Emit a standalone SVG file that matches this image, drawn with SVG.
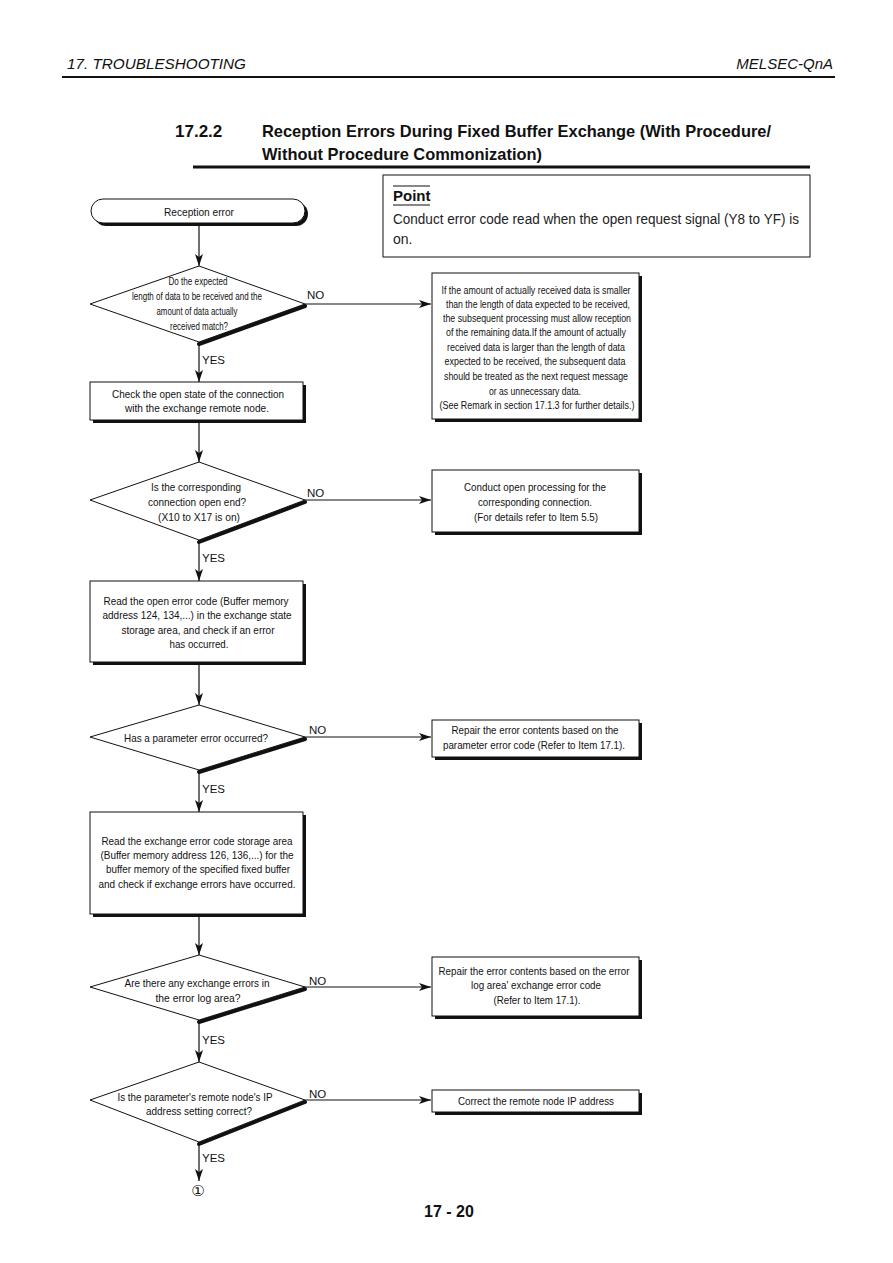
<svg xmlns="http://www.w3.org/2000/svg" width="893" height="1263" viewBox="0 0 893 1263">
<style>
.t{font-family:"Liberation Sans Narrow","Liberation Sans",Arial,sans-serif;font-size:11.5px;fill:#111;text-anchor:middle}
.s{font-size:10.5px}
.lbl{font-family:"Liberation Sans Narrow","Liberation Sans",Arial,sans-serif;font-size:11.5px;fill:#111}
.box{fill:#fff;stroke:#111;stroke-width:1}
.sh{fill:#111}
.dsh{fill:none;stroke:#111;stroke-width:4;stroke-linecap:round}
.ln{fill:none;stroke:#111;stroke-width:1.2}
.hdr{font-family:"Liberation Sans",Arial,sans-serif;font-style:italic;font-size:15px;fill:#111}
.ttl{font-family:"Liberation Sans",Arial,sans-serif;font-weight:bold;font-size:17px;fill:#111}
.pt{font-family:"Liberation Sans",Arial,sans-serif;font-size:14px;fill:#222}
</style>
<defs>
<marker id="arr" viewBox="0 0 12 8" refX="12" refY="4" markerWidth="12" markerHeight="8" orient="auto" markerUnits="userSpaceOnUse"><path d="M0,0 L12,4 L0,8 L3,4 z" fill="#111"/></marker>
</defs>
<rect width="893" height="1263" fill="#fff"/>

<g id="header">
<text class="hdr" x="67" y="69" textLength="179" lengthAdjust="spacingAndGlyphs">17. TROUBLESHOOTING</text>
<text class="hdr" x="833" y="69" text-anchor="end">MELSEC-QnA</text>
<line x1="62" y1="77" x2="835" y2="77" stroke="#111" stroke-width="2"/>
</g>

<g id="title">
<text class="ttl" x="175" y="137">17.2.2</text>
<text class="ttl" x="262" y="137" textLength="509" lengthAdjust="spacingAndGlyphs">Reception Errors During Fixed Buffer Exchange (With Procedure/</text>
<text class="ttl" x="262" y="160" textLength="280" lengthAdjust="spacingAndGlyphs">Without Procedure Commonization)</text>
<line x1="193" y1="167" x2="810" y2="167" stroke="#111" stroke-width="3"/>
</g>

<g id="point">
<rect class="box" x="383" y="175" width="427" height="82"/>
<line x1="393" y1="186" x2="430" y2="186" stroke="#111" stroke-width="1"/>
<text x="393" y="201" font-family="Liberation Sans,Arial,sans-serif" font-weight="bold" font-size="15" fill="#111">Point</text>
<line x1="393" y1="205" x2="430" y2="205" stroke="#111" stroke-width="1.2"/>
<text class="pt" x="393" y="224" textLength="406" lengthAdjust="spacingAndGlyphs">Conduct error code read when the open request signal (Y8 to YF) is</text>
<text class="pt" x="393" y="244">on.</text>
</g>

<g id="connectors">
<line class="ln" x1="199" y1="223" x2="199" y2="266" marker-end="url(#arr)"/>
<line class="ln" x1="199" y1="342" x2="199" y2="382" marker-end="url(#arr)"/>
<line class="ln" x1="199" y1="423" x2="199" y2="462" marker-end="url(#arr)"/>
<line class="ln" x1="199" y1="540" x2="199" y2="581" marker-end="url(#arr)"/>
<line class="ln" x1="199" y1="665" x2="199" y2="705" marker-end="url(#arr)"/>
<line class="ln" x1="199" y1="770" x2="199" y2="812" marker-end="url(#arr)"/>
<line class="ln" x1="199" y1="917" x2="199" y2="955" marker-end="url(#arr)"/>
<line class="ln" x1="199" y1="1020" x2="199" y2="1062" marker-end="url(#arr)"/>
<line class="ln" x1="199" y1="1142" x2="199" y2="1181" marker-end="url(#arr)"/>
<line class="ln" x1="305" y1="304" x2="431" y2="304" marker-end="url(#arr)"/>
<line class="ln" x1="305" y1="500" x2="431" y2="500" marker-end="url(#arr)"/>
<line class="ln" x1="305" y1="737" x2="431" y2="737" marker-end="url(#arr)"/>
<line class="ln" x1="305" y1="987" x2="431" y2="987" marker-end="url(#arr)"/>
<line class="ln" x1="305" y1="1100" x2="431" y2="1100" marker-end="url(#arr)"/>
<text class="lbl" x="307" y="299">NO</text>
<text class="lbl" x="307" y="497">NO</text>
<text class="lbl" x="309" y="734">NO</text>
<text class="lbl" x="309" y="985">NO</text>
<text class="lbl" x="309" y="1098">NO</text>
<text class="lbl" x="202" y="364">YES</text>
<text class="lbl" x="202" y="562">YES</text>
<text class="lbl" x="202" y="793">YES</text>
<text class="lbl" x="202" y="1044">YES</text>
<text class="lbl" x="202" y="1162">YES</text>
</g>

<g id="start">
<rect class="sh" x="94" y="202" width="214" height="24" rx="12"/>
<rect class="box" x="91" y="199" width="214" height="24" rx="12"/>
<text class="t" x="199" y="216" textLength="70" lengthAdjust="spacingAndGlyphs">Reception error</text>
</g>

<g id="d1">
<line class="dsh" x1="305" y1="306" x2="199" y2="344"/>
<polygon class="box" points="90,304 199,266 305,304 199,342"/>
<text class="t s" x="198" y="285" textLength="59" lengthAdjust="spacingAndGlyphs">Do the expected</text>
<text class="t s" x="197" y="300" textLength="130" lengthAdjust="spacingAndGlyphs">length of data to be received and the</text>
<text class="t s" x="197" y="315" textLength="81" lengthAdjust="spacingAndGlyphs">amount of data actually</text>
<text class="t s" x="199" y="330" textLength="58" lengthAdjust="spacingAndGlyphs">received match?</text>
</g>

<g id="r1">
<rect class="sh" x="435" y="276" width="207" height="146"/>
<rect class="box" x="432" y="273" width="207" height="146"/>
<text class="t s" x="536" y="294" textLength="189" lengthAdjust="spacingAndGlyphs">If the amount of actually received data is smaller</text>
<text class="t s" x="538" y="308" textLength="184" lengthAdjust="spacingAndGlyphs">than the length of data expected to be received,</text>
<text class="t s" x="537" y="322" textLength="188" lengthAdjust="spacingAndGlyphs">the subsequent processing must allow reception</text>
<text class="t s" x="536" y="336" textLength="180" lengthAdjust="spacingAndGlyphs">of the remaining data.If the amount of actually</text>
<text class="t s" x="536" y="351" textLength="178" lengthAdjust="spacingAndGlyphs">received data is larger than the length of data</text>
<text class="t s" x="535" y="365" textLength="181" lengthAdjust="spacingAndGlyphs">expected to be received, the subsequent data</text>
<text class="t s" x="536" y="380" textLength="184" lengthAdjust="spacingAndGlyphs">should be treated as the next request message</text>
<text class="t s" x="535" y="395" textLength="92" lengthAdjust="spacingAndGlyphs">or as unnecessary data.</text>
<text class="t s" x="537" y="409" textLength="195" lengthAdjust="spacingAndGlyphs">(See Remark in section 17.1.3 for further details.)</text>
</g>

<g id="b2">
<rect class="sh" x="93" y="385" width="213" height="38"/>
<rect class="box" x="90" y="382" width="213" height="38"/>
<text class="t" x="198" y="398" textLength="172" lengthAdjust="spacingAndGlyphs">Check the open state of the connection</text>
<text class="t" x="197" y="412" textLength="144" lengthAdjust="spacingAndGlyphs">with the exchange remote node.</text>
</g>

<g id="d2">
<line class="dsh" x1="305" y1="502" x2="199" y2="542"/>
<polygon class="box" points="90,500 199,462 305,500 199,540"/>
<text class="t" x="196" y="491" textLength="90" lengthAdjust="spacingAndGlyphs">Is the corresponding</text>
<text class="t" x="197" y="506" textLength="98" lengthAdjust="spacingAndGlyphs">connection open end?</text>
<text class="t" x="199" y="521" textLength="82" lengthAdjust="spacingAndGlyphs">(X10 to X17 is on)</text>
</g>

<g id="r2">
<rect class="sh" x="435" y="473" width="207" height="62"/>
<rect class="box" x="432" y="470" width="207" height="62"/>
<text class="t" x="535" y="491" textLength="142" lengthAdjust="spacingAndGlyphs">Conduct open processing for the</text>
<text class="t" x="535" y="506" textLength="114" lengthAdjust="spacingAndGlyphs">corresponding connection.</text>
<text class="t" x="536" y="521" textLength="124" lengthAdjust="spacingAndGlyphs">(For details refer to Item 5.5)</text>
</g>

<g id="b3">
<rect class="sh" x="93" y="584" width="213" height="81"/>
<rect class="box" x="90" y="581" width="213" height="81"/>
<text class="t" x="196" y="605" textLength="185" lengthAdjust="spacingAndGlyphs">Read the open error code (Buffer memory</text>
<text class="t" x="197" y="619" textLength="189" lengthAdjust="spacingAndGlyphs">address 124, 134,...) in the exchange state</text>
<text class="t" x="198" y="634" textLength="153" lengthAdjust="spacingAndGlyphs">storage area, and check if an error</text>
<text class="t" x="199" y="648" textLength="59" lengthAdjust="spacingAndGlyphs">has occurred.</text>
</g>

<g id="d3">
<line class="dsh" x1="305" y1="739" x2="199" y2="772"/>
<polygon class="box" points="90,737 199,705 305,737 199,770"/>
<text class="t" x="196" y="742" textLength="144" lengthAdjust="spacingAndGlyphs">Has a parameter error occurred?</text>
</g>

<g id="r3">
<rect class="sh" x="435" y="723" width="207" height="37"/>
<rect class="box" x="432" y="720" width="207" height="37"/>
<text class="t" x="535" y="734" textLength="167" lengthAdjust="spacingAndGlyphs">Repair the error contents based on the</text>
<text class="t" x="534" y="749" textLength="182" lengthAdjust="spacingAndGlyphs">parameter error code (Refer to Item 17.1).</text>
</g>

<g id="b4">
<rect class="sh" x="93" y="815" width="213" height="102"/>
<rect class="box" x="90" y="812" width="213" height="102"/>
<text class="t" x="197" y="845" textLength="191" lengthAdjust="spacingAndGlyphs">Read the exchange error code storage area</text>
<text class="t" x="197" y="859" textLength="193" lengthAdjust="spacingAndGlyphs">(Buffer memory address 126, 136,...) for the</text>
<text class="t" x="198" y="873" textLength="184" lengthAdjust="spacingAndGlyphs">buffer memory of the specified fixed buffer</text>
<text class="t" x="197" y="888" textLength="197" lengthAdjust="spacingAndGlyphs">and check if exchange errors have occurred.</text>
</g>

<g id="d4">
<line class="dsh" x1="305" y1="989" x2="199" y2="1022"/>
<polygon class="box" points="90,987 199,955 305,987 199,1020"/>
<text class="t" x="197" y="987" textLength="145" lengthAdjust="spacingAndGlyphs">Are there any exchange errors in</text>
<text class="t" x="198" y="1002" textLength="85" lengthAdjust="spacingAndGlyphs">the error log area?</text>
</g>

<g id="r4">
<rect class="sh" x="435" y="960" width="207" height="59"/>
<rect class="box" x="432" y="957" width="207" height="59"/>
<text class="t" x="534" y="975" textLength="191" lengthAdjust="spacingAndGlyphs">Repair the error contents based on the error</text>
<text class="t" x="536" y="989" textLength="130" lengthAdjust="spacingAndGlyphs">log area' exchange error code</text>
<text class="t" x="537" y="1004" textLength="87" lengthAdjust="spacingAndGlyphs">(Refer to Item 17.1).</text>
</g>

<g id="d5">
<line class="dsh" x1="305" y1="1102" x2="199" y2="1144"/>
<polygon class="box" points="90,1100 199,1062 305,1100 199,1142"/>
<text class="t" x="195" y="1101" textLength="155" lengthAdjust="spacingAndGlyphs">Is the parameter's remote node's IP</text>
<text class="t" x="199" y="1115" textLength="106" lengthAdjust="spacingAndGlyphs">address setting correct?</text>
</g>

<g id="r5">
<rect class="sh" x="435" y="1093" width="207" height="22"/>
<rect class="box" x="432" y="1090" width="207" height="22"/>
<text class="t" x="536" y="1105" textLength="156" lengthAdjust="spacingAndGlyphs">Correct the remote node IP address</text>
</g>

<g id="cont">
<text x="198" y="1196" font-family="DejaVu Sans,sans-serif" font-size="15" fill="#111" text-anchor="middle">①</text>
</g>

<g id="footer">
<text x="449" y="1217" font-family="Liberation Sans,Arial,sans-serif" font-weight="bold" font-size="16" fill="#111" text-anchor="middle">17 - 20</text>
</g>
</svg>
